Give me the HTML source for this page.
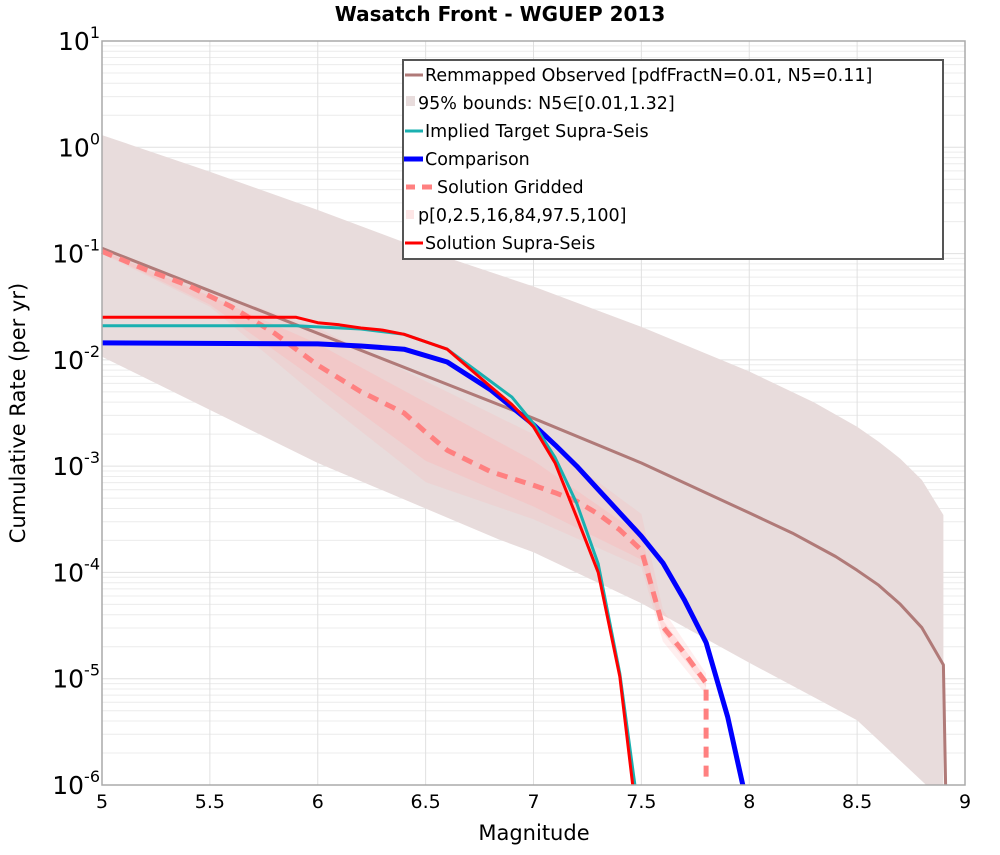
<!DOCTYPE html>
<html><head><meta charset="utf-8"><style>
body{margin:0;background:#fff;}
svg{font-family:"DejaVu Sans","Liberation Sans",sans-serif;}
</style></head><body>
<svg id="chart" width="1000" height="850" xmlns="http://www.w3.org/2000/svg">
<text x="500" y="21" text-anchor="middle" font-size="20" font-weight="bold">Wasatch Front - WGUEP 2013</text>
<g id="grid"></g>
<g id="bands"></g>
<g id="lines"></g>
<rect x="102" y="41" width="863" height="744" fill="none" stroke="#aaa" stroke-width="1.5"/>
<g id="ticks"></g>
<text x="534" y="840" text-anchor="middle" font-size="21">Magnitude</text>
<text transform="translate(25,413) rotate(-90)" text-anchor="middle" font-size="21">Cumulative Rate (per yr)</text>
<g>
<rect x="403" y="60" width="540" height="199" fill="#fff" stroke="#555" stroke-width="2"/>
<line x1="405" y1="75" x2="423" y2="75" stroke="#b07a78" stroke-width="3"/>
<text x="425" y="81" font-size="17.5">Remmapped Observed [pdfFractN=0.01, N5=0.11]</text>
<rect x="406" y="96" width="9" height="10" fill="#e8dcdc"/>
<text x="418" y="109" font-size="17.5">95% bounds: N5∈[0.01,1.32]</text>
<line x1="405" y1="131" x2="423" y2="131" stroke="#1ab0b0" stroke-width="3"/>
<text x="425" y="137" font-size="17.5">Implied Target Supra-Seis</text>
<line x1="404" y1="159" x2="423" y2="159" stroke="#0000ff" stroke-width="5"/>
<text x="425" y="165" font-size="17.5">Comparison</text>
<line x1="406" y1="187" x2="415" y2="187" stroke="#ff8080" stroke-width="5"/>
<line x1="422" y1="187" x2="432" y2="187" stroke="#ff8080" stroke-width="5"/>
<text x="437" y="193" font-size="17.5">Solution Gridded</text>
<rect x="406" y="210" width="8" height="9" fill="#fde6e6"/>
<text x="418" y="221" font-size="17.5">p[0,2.5,16,84,97.5,100]</text>
<line x1="405" y1="243" x2="423" y2="243" stroke="#ff0000" stroke-width="3"/>
<text x="425" y="249" font-size="17.5">Solution Supra-Seis</text>
</g>
</svg>
<script>
// data (log10 of rate)
const xTicks=[5,5.5,6,6.5,7,7.5,8,8.5,9];
const yTickExp=[1,0,-1,-2,-3,-4,-5,-6];
const obsM=[5,5.5,6,6.5,7,7.5,8,8.2,8.4,8.5,8.6,8.7,8.8,8.9,8.91];
const obsV=[-0.95,-1.35,-1.75,-2.15,-2.55,-2.97,-3.44,-3.63,-3.85,-3.98,-4.12,-4.3,-4.52,-4.87,-6];
const upM=[5,5.5,6,6.5,7,7.5,8,8.3,8.5,8.6,8.7,8.8,8.9,8.9];
const upV=[0.115,-0.23,-0.59,-0.97,-1.31,-1.69,-2.11,-2.4,-2.63,-2.77,-2.93,-3.13,-3.46,-6];
const loM=[5,6,6.84,7,7.5,8,8.5,8.82];
const loV=[-1.97,-2.97,-3.69,-3.81,-4.29,-4.85,-5.39,-6];
const gM=[5,5.5,6,6.5,7,7.5,7.6,7.7,7.8];
const gOutHi=[-0.96,-1.35,-1.7,-2.2,-2.7,-3.45,-4.35,-4.65,-4.95];
const gOutLo=[-1.0,-1.5,-2.35,-3.15,-3.5,-3.95,-4.65,-4.9,-5.15];
const gInHi=[-0.97,-1.4,-1.85,-2.4,-2.95,-3.65,-4.45,-4.72,-5.0];
const gInLo=[-0.99,-1.48,-2.2,-2.95,-3.38,-3.88,-4.57,-4.82,-5.08];
const gridM=[5,5.2,5.4,5.6,5.8,6,6.2,6.4,6.5,6.6,6.8,7,7.1,7.2,7.3,7.4,7.5,7.6,7.7,7.8,7.8];
const gridV=[-0.98,-1.15,-1.3,-1.5,-1.75,-2.05,-2.3,-2.5,-2.68,-2.85,-3.05,-3.18,-3.25,-3.33,-3.45,-3.6,-3.79,-4.51,-4.76,-5.04,-6];
const compM=[5,6,6.2,6.4,6.6,6.8,7,7.1,7.2,7.3,7.4,7.5,7.6,7.7,7.8,7.9,7.97];
const compV=[-1.84,-1.85,-1.87,-1.9,-2.02,-2.28,-2.61,-2.8,-3.0,-3.22,-3.44,-3.66,-3.91,-4.26,-4.66,-5.36,-6];
const tgtM=[5,5.9,6,6.2,6.4,6.6,6.8,6.9,7,7.1,7.2,7.3,7.4,7.47];
const tgtV=[-1.68,-1.68,-1.69,-1.71,-1.76,-1.9,-2.2,-2.35,-2.6,-2.92,-3.35,-3.92,-4.95,-6];
const supM=[5,5.9,6,6.1,6.2,6.3,6.4,6.6,6.8,6.9,7,7.1,7.2,7.3,7.4,7.46];
const supV=[-1.6,-1.6,-1.65,-1.67,-1.7,-1.72,-1.76,-1.9,-2.25,-2.42,-2.63,-2.97,-3.48,-4.0,-4.98,-6];

const X0=102,X1=965,Y0=41,Y1=785;
const xs=m=>X0+(m-5)/4*(X1-X0);
const ys=v=>Y0+(1-v)/7*(Y1-Y0);
const NS='http://www.w3.org/2000/svg';
function mk(tag,parent,attrs){const e=document.createElementNS(NS,tag);for(const k in attrs)e.setAttribute(k,attrs[k]);document.getElementById(parent).appendChild(e);return e;}
const grid='grid';
for(let e=-6;e<1;e++){for(let k=2;k<=9;k++){const y=ys(e+Math.log10(k));
const l=mk('line',grid,{x1:X0,x2:X1,y1:y,y2:y,stroke:'#ececec','stroke-width':1});

}}
yTickExp.forEach(e=>{const y=ys(e);
const l=mk('line',grid,{x1:X0,x2:X1,y1:y,y2:y,stroke:'#e0e0e0','stroke-width':1});


const t=mk('text','ticks',{x:100,y:y+9,'text-anchor':'end','font-size':25});


t.innerHTML='10<tspan dy="-12" font-size="16">'+e+'</tspan>';});
xTicks.forEach(m=>{const x=xs(m);
const l=mk('line',grid,{x1:x,x2:x,y1:Y0,y2:Y1,stroke:'#e0e0e0','stroke-width':1});


const t=mk('text','ticks',{x:x,y:808,'text-anchor':'middle','font-size':19});


t.textContent=String(m);});
function pts(M,V){return M.map((m,i)=>xs(m).toFixed(1)+','+ys(V[i]).toFixed(1));}
function band(M1,V1,M2,V2,fill,op,name){const p=pts(M1,V1).concat(pts(M2,V2).reverse());
const e=mk('polygon','bands',{points:p.join(' '),fill:fill,'fill-opacity':op});

}
band(upM,upV,loM,loV,'#e8dcdc',1,'bounds-95-band');
band(gM,gOutHi,gM,gOutLo,'#ffb0b0',0.2,'gridded-outer-band');
band(gM,gInHi,gM,gInLo,'#ffb0b0',0.3,'gridded-inner-band');
function line(M,V,col,w,name,dash){const e=mk('polyline','lines',{points:pts(M,V).join(' '),fill:'none',stroke:col,'stroke-width':w,'stroke-linejoin':'round'});
if(dash)e.setAttribute('stroke-dasharray',dash);

}
line(obsM,obsV,'#b07a78',3,'observed-line');
line(gridM,gridV,'#ff8080',5,'gridded-line','11,8');
line(compM,compV,'#0000ff',5,'comparison-line');
line(tgtM,tgtV,'#1ab0b0',3,'target-line');
line(supM,supV,'#ff0000',3,'supra-seis-line');
</script>
</body></html>
